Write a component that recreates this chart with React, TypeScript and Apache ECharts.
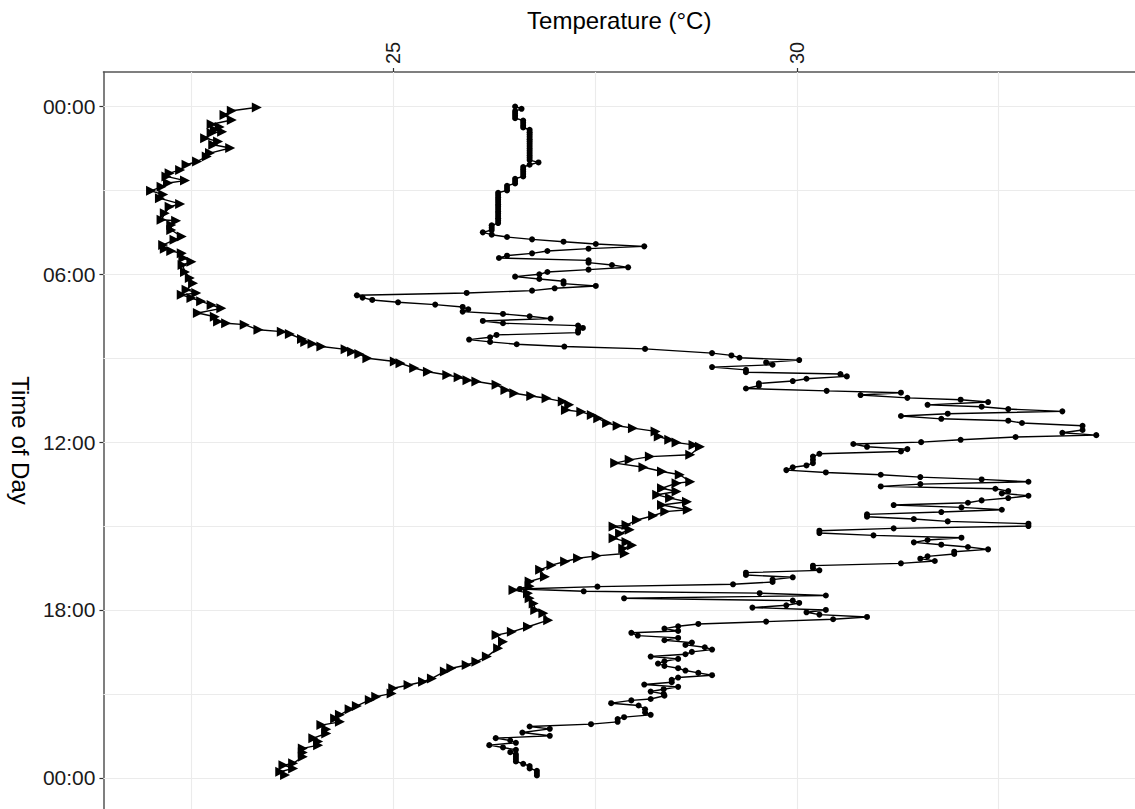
import { useEffect, useRef } from "react";
import * as echarts from "echarts";

// Vertical grid lines (°C) and labelled ticks
const xGridValues = [22.5, 25, 27.5, 30, 32.5];
const xTickLabels = [25, 30];
// Horizontal grid lines (minutes of day) and labelled ticks
const yGridMinutes = [0, 180, 360, 540, 720, 900, 1080, 1260, 1440];
const yTickMinutes = [0, 360, 720, 1080, 1440];

// [minute of day, temperature °C] — triangle series
const triangleSeries: [number, number][] = [
  [2, 23.31], [9, 23.0], [18, 22.91], [29, 23.0], [38, 22.75], [44, 22.85], [50, 22.79], [54, 22.88], [57, 22.75],
  [68, 22.67], [75, 22.83], [82, 22.77], [89, 22.98], [100, 22.73], [107, 22.69], [118, 22.57], [125, 22.44],
  [136, 22.36], [143, 22.23], [150, 22.19], [159, 22.42], [164, 22.21], [172, 22.13], [181, 22.0], [189, 22.15],
  [197, 22.11], [209, 22.36], [215, 22.23], [229, 22.17], [243, 22.13], [245, 22.31], [254, 22.25], [265, 22.25],
  [279, 22.38], [286, 22.29], [297, 22.15], [305, 22.17], [310, 22.25], [315, 22.38], [325, 22.4], [333, 22.5],
  [340, 22.39], [355, 22.42], [368, 22.48], [379, 22.52], [393, 22.44], [400, 22.56], [404, 22.38], [411, 22.5],
  [418, 22.62], [426, 22.75], [433, 22.87], [443, 22.58], [451, 22.79], [461, 22.83], [465, 22.93], [468, 23.16],
  [479, 23.33], [483, 23.62], [488, 23.72], [499, 23.87], [505, 23.91], [509, 24.0], [515, 24.11], [521, 24.41],
  [526, 24.49], [531, 24.58], [540, 24.68], [547, 25.02], [551, 25.09], [561, 25.26], [569, 25.43], [576, 25.67],
  [581, 25.81], [587, 25.92], [590, 26.03], [597, 26.28], [608, 26.39], [615, 26.5], [621, 26.71], [626, 26.9],
  [633, 27.1], [640, 27.18], [651, 27.14], [655, 27.33], [662, 27.46], [669, 27.54], [679, 27.65], [685, 27.78],
  [690, 27.97], [697, 28.25], [708, 28.29], [715, 28.42], [721, 28.51], [726, 28.72], [730, 28.8], [747, 28.68],
  [751, 28.18], [758, 27.93], [765, 27.75], [774, 28.1], [783, 28.33], [790, 28.55], [805, 28.68], [808, 28.51],
  [819, 28.33], [826, 28.51], [833, 28.27], [840, 28.43], [848, 28.64], [855, 28.33], [865, 28.65], [869, 28.37],
  [878, 28.22], [887, 28.02], [898, 27.89], [901, 27.73], [908, 27.93], [916, 27.81], [926, 27.73], [934, 27.89],
  [941, 27.96], [948, 27.85], [959, 27.87], [964, 27.52], [969, 27.29], [976, 27.13], [984, 26.96], [994, 26.82],
  [1009, 26.88], [1019, 26.69], [1029, 26.69], [1037, 26.49], [1044, 26.67], [1055, 26.69], [1066, 26.74],
  [1080, 26.76], [1087, 26.86], [1102, 26.92], [1116, 26.67], [1127, 26.47], [1134, 26.28], [1148, 26.36],
  [1162, 26.3], [1180, 26.16], [1191, 26.03], [1198, 25.91], [1205, 25.72], [1212, 25.64], [1227, 25.48],
  [1234, 25.37], [1241, 25.19], [1248, 25.0], [1259, 24.98], [1266, 24.79], [1273, 24.71], [1286, 24.55],
  [1293, 24.46], [1305, 24.34], [1313, 24.28], [1320, 24.34], [1327, 24.11], [1336, 24.17], [1345, 24.17],
  [1355, 24.01], [1362, 24.07], [1370, 24.07], [1377, 23.88], [1386, 23.88], [1395, 23.88], [1409, 23.76],
  [1413, 23.64], [1420, 23.76], [1427, 23.6], [1434, 23.66],
];

// [minute of day, temperature °C] — dot series
const dotSeries: [number, number][] = [
  [0, 26.51], [5, 26.59], [10, 26.51], [15, 26.51], [20, 26.51], [25, 26.51], [30, 26.61], [35, 26.61], [40, 26.61],
  [45, 26.61], [50, 26.69], [55, 26.69], [60, 26.69], [65, 26.69], [70, 26.69], [75, 26.69], [80, 26.69], [85, 26.69],
  [90, 26.69], [95, 26.69], [100, 26.69], [105, 26.69], [110, 26.69], [115, 26.69], [120, 26.8], [125, 26.69],
  [130, 26.61], [135, 26.61], [140, 26.61], [145, 26.61], [150, 26.61], [155, 26.51], [160, 26.51], [165, 26.51],
  [170, 26.41], [175, 26.41], [180, 26.41], [185, 26.3], [190, 26.3], [195, 26.3], [200, 26.3], [205, 26.3],
  [210, 26.3], [215, 26.3], [220, 26.3], [225, 26.3], [230, 26.3], [235, 26.3], [240, 26.3], [245, 26.3], [250, 26.3],
  [255, 26.22], [260, 26.22], [265, 26.22], [270, 26.11], [275, 26.22], [280, 26.41], [285, 26.72], [290, 27.11],
  [295, 27.51], [300, 28.11], [305, 27.42], [310, 26.91], [315, 26.72], [320, 26.41], [325, 26.31], [330, 27.42],
  [335, 27.42], [340, 27.71], [345, 27.91], [350, 27.42], [355, 26.91], [360, 26.81], [365, 26.51], [370, 26.81],
  [375, 27.11], [380, 27.11], [385, 27.51], [390, 27.0], [395, 26.72], [400, 25.91], [405, 24.55], [410, 24.62],
  [415, 24.74], [420, 25.06], [425, 25.52], [430, 25.86], [435, 25.93], [440, 25.86], [445, 26.36], [450, 26.69],
  [455, 26.95], [460, 26.11], [465, 26.36], [470, 27.29], [475, 27.35], [480, 27.29], [485, 27.29], [490, 26.28],
  [495, 26.2], [500, 25.94], [505, 26.2], [510, 26.53], [515, 27.12], [520, 28.12], [529, 28.95], [534, 29.19],
  [539, 29.29], [544, 30.03], [549, 29.62], [554, 29.7], [559, 28.95], [565, 29.37], [570, 29.37], [574, 30.54],
  [579, 30.62], [584, 30.12], [589, 29.95], [594, 29.53], [599, 29.53], [605, 29.37], [610, 30.37], [614, 31.29],
  [619, 30.79], [625, 31.37], [629, 32.03], [634, 32.37], [640, 31.62], [644, 32.29], [649, 32.62], [654, 33.29],
  [659, 31.87], [664, 31.29], [670, 31.79], [674, 32.62], [679, 32.79], [685, 33.54], [694, 33.54], [700, 33.29],
  [705, 33.71], [709, 32.71], [715, 32.03], [720, 31.54], [724, 30.7], [730, 30.87], [735, 31.37], [740, 31.29],
  [745, 30.28], [751, 30.2], [758, 30.2], [765, 30.2], [770, 30.12], [774, 29.95], [780, 29.87], [785, 30.36],
  [790, 31.04], [795, 31.53], [800, 32.29], [805, 32.87], [810, 31.53], [815, 31.04], [820, 32.46], [825, 32.62],
  [830, 32.54], [835, 32.87], [840, 32.62], [845, 32.29], [850, 32.12], [855, 31.2], [860, 32.04], [865, 32.54],
  [870, 31.79], [875, 30.87], [880, 30.87], [885, 31.45], [890, 31.87], [895, 32.87], [900, 32.87], [905, 31.2],
  [910, 30.28], [915, 30.28], [920, 30.95], [925, 32.04], [930, 31.62], [935, 31.45], [940, 31.79], [945, 32.12],
  [950, 32.37], [955, 31.95], [960, 31.95], [965, 31.62], [970, 31.53], [975, 31.71], [980, 31.29], [985, 30.2],
  [990, 30.2], [995, 30.28], [1000, 29.37], [1005, 29.37], [1010, 29.95], [1015, 29.7], [1020, 29.7], [1025, 29.21],
  [1030, 27.53], [1035, 26.57], [1040, 27.36], [1044, 29.54], [1049, 30.36], [1055, 27.86], [1060, 29.95],
  [1065, 30.03], [1070, 29.87], [1075, 29.45], [1080, 30.36], [1085, 30.12], [1090, 30.28], [1095, 30.87],
  [1100, 30.45], [1105, 29.62], [1110, 28.78], [1115, 28.53], [1120, 28.36], [1125, 28.53], [1129, 27.95],
  [1135, 28.03], [1140, 28.53], [1145, 28.36], [1150, 28.7], [1155, 28.62], [1160, 28.86], [1165, 28.95],
  [1170, 28.7], [1175, 28.62], [1180, 28.19], [1185, 28.53], [1190, 28.36], [1195, 28.28], [1200, 28.36],
  [1205, 28.53], [1210, 28.62], [1215, 28.78], [1220, 28.95], [1225, 28.53], [1230, 28.45], [1235, 28.45],
  [1240, 28.11], [1245, 28.53], [1250, 28.35], [1255, 28.19], [1260, 28.35], [1264, 28.36], [1271, 28.19],
  [1274, 27.95], [1280, 27.7], [1285, 28.04], [1293, 28.12], [1300, 28.12], [1305, 28.19], [1310, 27.86],
  [1314, 27.78], [1320, 27.78], [1325, 27.45], [1330, 26.69], [1335, 26.94], [1343, 26.6], [1350, 26.94],
  [1355, 26.27], [1360, 26.45], [1365, 26.52], [1370, 26.19], [1375, 26.36], [1380, 26.52], [1385, 26.45],
  [1390, 26.52], [1395, 26.52], [1400, 26.52], [1405, 26.52], [1410, 26.61], [1415, 26.69], [1420, 26.69],
  [1425, 26.78], [1430, 26.78], [1435, 26.78],
];

const FONT = "'Liberation Sans', Arial, Helvetica, sans-serif";

function fmtMinutes(v: number): string {
  const m = ((Math.round(v) % 1440) + 1440) % 1440;
  const h = Math.floor(m / 60);
  const mm = m % 60;
  return `${String(h).padStart(2, "0")}:${String(mm).padStart(2, "0")}`;
}

export default function App() {
  const ref = useRef<HTMLDivElement>(null);
  useEffect(() => {
    if (!ref.current) return;
    const chart = echarts.init(ref.current, null, { renderer: "svg" });
    const gridLineStyle = { color: "#ebebeb", width: 1.1, type: "solid" as const };
    chart.setOption({
      animation: false,
      backgroundColor: "#ffffff",
      grid: { left: 103, top: 72, right: 0, bottom: 0, containLabel: false },
      xAxis: {
        type: "value",
        position: "top",
        min: 21.41,
        max: 34.19,
        name: "Temperature (°C)",
        nameLocation: "middle",
        nameGap: 40,
        nameTextStyle: { fontSize: 24, color: "#000", fontFamily: FONT },
        axisLine: { show: true, onZero: false, lineStyle: { color: "#555", width: 1.5 } },
        axisTick: { show: true, customValues: xTickLabels, length: 4, lineStyle: { color: "#333", width: 1.2 } },
        axisLabel: {
          customValues: xTickLabels,
          rotate: -90,
          fontSize: 20,
          color: "#1a1a1a",
          margin: 8,
          fontFamily: FONT,
        },
        splitLine: { show: false },
      },
      yAxis: {
        type: "value",
        inverse: true,
        min: -74,
        max: 1507,
        name: "Time of Day",
        nameLocation: "middle",
        nameGap: 70,
        nameRotate: -90,
        nameTextStyle: { fontSize: 24, color: "#000", fontFamily: FONT },
        axisLine: { show: true, onZero: false, lineStyle: { color: "#555", width: 1.5 } },
        axisTick: { show: true, customValues: yTickMinutes, length: 4, lineStyle: { color: "#333", width: 1.2 } },
        axisLabel: {
          customValues: yTickMinutes,
          formatter: (v: number) => fmtMinutes(v),
          fontSize: 21,
          color: "#1a1a1a",
          margin: 8,
          fontFamily: FONT,
        },
        splitLine: { show: false },
      },
      series: [
        {
          type: "line",
          data: [],
          silent: true,
          markLine: {
            z: 1,
            silent: true,
            symbol: ["none", "none"],
            label: { show: false },
            lineStyle: gridLineStyle,
            emphasis: { disabled: true },
            data: [
              ...xGridValues.map((v) => ({ xAxis: v })),
              ...yGridMinutes.map((v) => ({ yAxis: v })),
            ],
          },
        },
        {
          type: "line",
          z: 3,
          data: triangleSeries.map(([m, t]) => [t, m]),
          symbol: "triangle",
          symbolSize: 10,
          symbolRotate: -90,
          showAllSymbol: true,
          itemStyle: { color: "#000" },
          lineStyle: { color: "#000", width: 1.4 },
          emphasis: { disabled: true },
        },
        {
          type: "line",
          z: 3,
          data: dotSeries.map(([m, t]) => [t, m]),
          symbol: "circle",
          symbolSize: 6,
          showAllSymbol: true,
          itemStyle: { color: "#000" },
          lineStyle: { color: "#000", width: 1.4 },
          emphasis: { disabled: true },
        },
      ],
    });
    return () => chart.dispose();
  }, []);
  return (
    <div
      ref={ref}
      style={{ position: "absolute", left: 0, top: 0, width: 1135, height: 809 }}
    />
  );
}
